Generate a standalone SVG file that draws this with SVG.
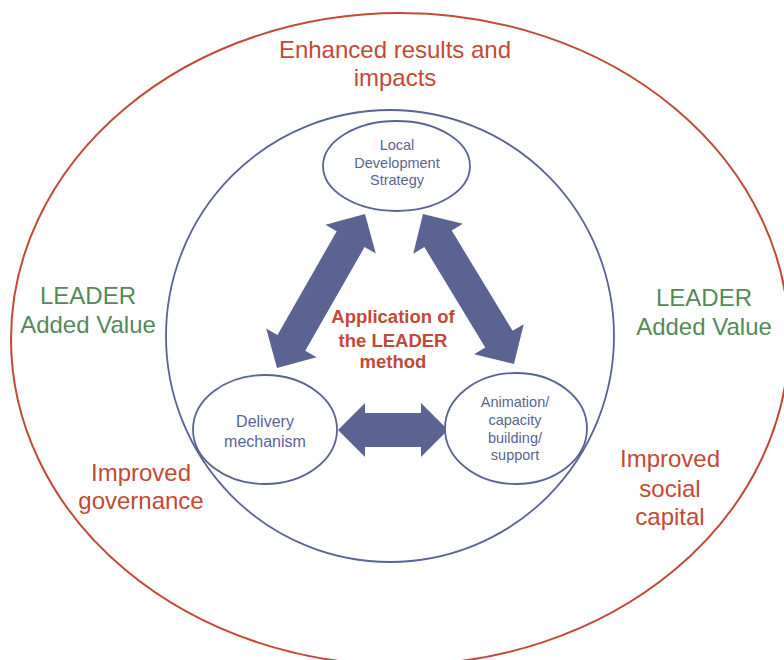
<svg xmlns="http://www.w3.org/2000/svg" width="784" height="660" viewBox="0 0 784 660">
  <style>
    text { font-family: "Liberation Sans", Arial, sans-serif; text-anchor: middle; }
    .outer { fill: none; stroke: #C24A36; stroke-width: 2; }
    .inner { fill: none; stroke: #5A6494; stroke-width: 1.8; }
    .node { fill: #ffffff; stroke: #5A6494; stroke-width: 1.8; }
    .big-red { fill: #C24A36; font-size: 24px; }
    .big-green { fill: #55895A; font-size: 24px; }
    .center { fill: #C24A36; font-size: 18.5px; font-weight: bold; }
    .label { fill: #5A6494; font-size: 14.5px; }
    .arrow { fill: #5A6391; stroke: none; }
  </style>

  <!-- outer ring and inner circle -->
  <ellipse class="outer" cx="400" cy="339" rx="389" ry="326"/>
  <ellipse class="inner" cx="390" cy="336" rx="224" ry="226"/>

  <!-- outer labels -->
  <g id="outer-labels">
    <text class="big-red" x="395" y="58">Enhanced results and</text>
    <text class="big-red" x="395" y="86">impacts</text>
    <text class="big-green" x="88" y="304">LEADER</text>
    <text class="big-green" x="88" y="333">Added Value</text>
    <text class="big-green" x="704" y="306">LEADER</text>
    <text class="big-green" x="704" y="335">Added Value</text>
    <text class="big-red" x="141" y="481">Improved</text>
    <text class="big-red" x="141" y="509">governance</text>
    <text class="big-red" x="670" y="467">Improved</text>
    <text class="big-red" x="670" y="497">social</text>
    <text class="big-red" x="670" y="525">capital</text>
  </g>

  <g id="method">
    <text class="center" x="393" y="323">Application of</text>
    <text class="center" x="393" y="347">the LEADER</text>
    <text class="center" x="393" y="368">method</text>
  </g>

  <!-- double-headed connectors -->
  <g id="connectors">
    <path class="arrow" transform="translate(365,214) rotate(119.74)"
          d="M0,0 L29,-29 L29,-16 L148.4,-16 L148.4,-29 L177.4,0 L148.4,29 L148.4,16 L29,16 L29,29 Z"/>
    <path class="arrow" transform="translate(423,214) rotate(58.76)"
          d="M0,0 L29,-29 L29,-16 L146.4,-16 L146.4,-29 L175.4,0 L146.4,29 L146.4,16 L29,16 L29,29 Z"/>
    <path class="arrow" d="M338,430 l27,-27 v10 h56 v-10 l27,27 l-27,27 v-10 h-56 v10 z"/>
  </g>

  <g id="local-development-strategy">
    <ellipse class="node" cx="396.5" cy="166" rx="73.5" ry="45"/>
    <text class="label" x="397" y="150">Local</text>
    <text class="label" x="397" y="168">Development</text>
    <text class="label" x="397" y="185">Strategy</text>
  </g>

  <g id="delivery-mechanism">
    <ellipse class="node" cx="265" cy="429.5" rx="72" ry="54.5"/>
    <text class="label" x="265" y="427" style="font-size:16px">Delivery</text>
    <text class="label" x="265" y="447" style="font-size:16px">mechanism</text>
  </g>

  <g id="animation">
    <ellipse class="node" cx="516" cy="428.5" rx="71" ry="55.5"/>
    <text class="label" x="515" y="407">Animation/</text>
    <text class="label" x="515" y="425">capacity</text>
    <text class="label" x="515" y="443">building/</text>
    <text class="label" x="515" y="460">support</text>
  </g>
</svg>
